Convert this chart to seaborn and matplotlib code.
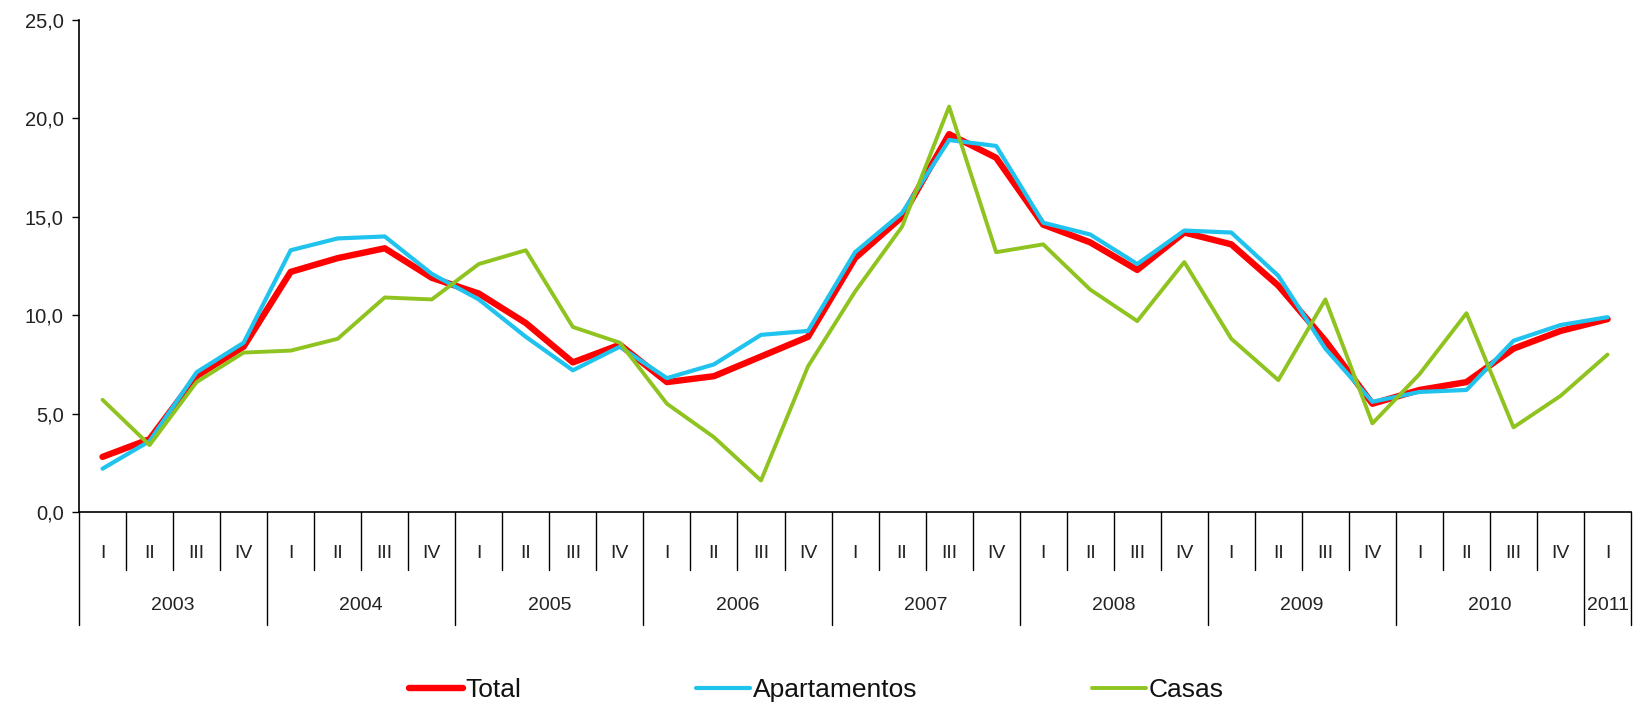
import seaborn as sns
import matplotlib.pyplot as plt
import pandas as pd
from matplotlib.ticker import FuncFormatter

# quarterly values 2003 I .. 2011 I
quarters = ["I", "II", "III", "IV"] * 8 + ["I"]
years = ["2003", "2004", "2005", "2006", "2007", "2008", "2009", "2010", "2011"]
total = [2.8, 3.7, 6.9, 8.4, 12.2, 12.9, 13.4, 11.9, 11.1, 9.6, 7.6, 8.5,
         6.6, 6.9, 7.9, 8.9, 12.9, 15.0, 19.2, 18.0, 14.6, 13.7, 12.3, 14.2,
         13.6, 11.5, 8.7, 5.5, 6.2, 6.6, 8.3, 9.2, 9.8]
apartamentos = [2.2, 3.6, 7.1, 8.6, 13.3, 13.9, 14.0, 12.1, 10.8, 8.9, 7.2, 8.4,
                6.8, 7.5, 9.0, 9.2, 13.2, 15.2, 18.9, 18.6, 14.7, 14.1, 12.6, 14.3,
                14.2, 12.0, 8.3, 5.6, 6.1, 6.2, 8.7, 9.5, 9.9]
casas = [5.7, 3.4, 6.6, 8.1, 8.2, 8.8, 10.9, 10.8, 12.6, 13.3, 9.4, 8.6,
         5.5, 3.8, 1.6, 7.4, 11.2, 14.5, 20.6, 13.2, 13.6, 11.3, 9.7, 12.7,
         8.8, 6.7, 10.8, 4.5, 7.0, 10.1, 4.3, 5.9, 8.0]

sns.set_theme(style="white")
plt.rcParams["font.family"] = ["Liberation Sans", "DejaVu Sans"]

df = pd.DataFrame({"pos": range(len(quarters)), "Total": total,
                   "Apartamentos": apartamentos, "Casas": casas})

fig = plt.figure(figsize=(16.36, 7.02), dpi=100)
ax = fig.add_axes([0.0483, 0.2707, 0.9487, 0.7008])

sns.lineplot(data=df, x="pos", y="Total", color="#FF0000", lw=4.6, ax=ax, label="Total")
sns.lineplot(data=df, x="pos", y="Apartamentos", color="#1FC3EE", lw=3.0, ax=ax, label="Apartamentos")
sns.lineplot(data=df, x="pos", y="Casas", color="#8FC31F", lw=2.8, ax=ax, label="Casas")

n = len(quarters)
ax.set_xlim(-0.5, n - 0.5)
ax.set_ylim(0, 25)
ax.set_yticks([0, 5, 10, 15, 20, 25])
ax.yaxis.set_major_formatter(FuncFormatter(lambda v, p: f"{v:.1f}".replace(".", ",")))
ax.tick_params(axis="y", left=True, length=5, width=1, color="black",
               labelsize=14.5, labelcolor="#222222", pad=6)
ax.set_xticks([])
ax.set_xlabel("")
ax.set_ylabel("")
for s in ["top", "right"]:
    ax.spines[s].set_visible(False)
for s in ["left", "bottom"]:
    ax.spines[s].set_color("black")
    ax.spines[s].set_linewidth(1.2)

# two-level category axis
tr = ax.get_xaxis_transform()
for i, q in enumerate(quarters):
    ax.text(i, -0.085, q, transform=tr, ha="center", va="center",
            fontsize=14, color="#222222")
for i in range(n + 1):
    x = i - 0.5
    long = (i % 4 == 0) or i == n
    ax.plot([x, x], [0, -0.23 if long else -0.118], transform=tr,
            color="black", lw=1, clip_on=False)
for k, y in enumerate(years):
    start = 4 * k - 0.5
    end = min(4 * k + 3.5, n - 0.5)
    ax.text((start + end) / 2, -0.191, y, transform=tr, ha="center", va="center",
            fontsize=14, color="#222222")

leg = ax.legend(loc="upper center", bbox_to_anchor=(0.475, -0.29), ncol=3,
                frameon=False, fontsize=19, handlelength=2.05, handletextpad=0.12,
                columnspacing=6.6)
for t in leg.get_texts():
    t.set_color("#111111")
for h in leg.get_lines():
    h.set_solid_capstyle("round")

fig.savefig("out.png", dpi=100)
